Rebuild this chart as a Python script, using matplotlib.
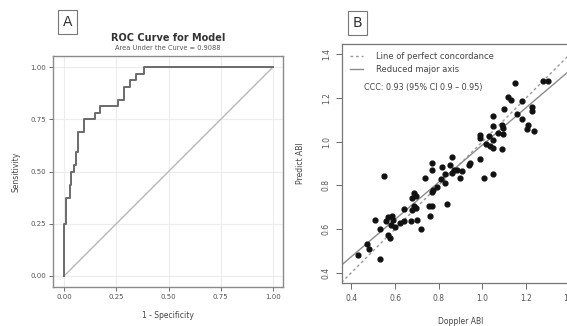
import numpy as np
import matplotlib
matplotlib.use('Agg')
import matplotlib.pyplot as plt

# ROC curve vertices (1 - specificity, sensitivity)
fpr = [0, 0, 0.011, 0.027, 0.035, 0.047, 0.056, 0.067, 0.096, 0.147,
       0.171, 0.256, 0.286, 0.315, 0.342, 0.384, 1.0]
tpr = [0, 0.25, 0.375, 0.4375, 0.5, 0.53125, 0.59375, 0.6875, 0.75,
       0.78125, 0.8125, 0.84375, 0.90625, 0.9375, 0.96875, 1.0, 1.0]
roc_ticks = [0.0, 0.25, 0.50, 0.75, 1.00]
roc_xlabels = ['0.00', '0.25', '0.50', '0.75', '1.00']
roc_ylabels = ['0.00', '0.25', '0.50', '0.75', '1.00']

# Doppler ABI vs predicted ABI
doppler = [0.548, 0.739, 0.810, 0.828, 0.790, 0.774, 0.767, 0.686, 0.694, 0.678,
           0.839, 0.755, 0.770, 0.687, 0.698, 0.641, 0.678, 0.758, 0.510, 0.568,
           0.588, 0.556, 0.591, 0.579, 0.599, 0.622, 0.641, 0.671, 0.700, 0.530,
           0.721, 0.568, 0.576, 0.469, 0.479, 0.428, 0.530,
           1.050, 1.088, 1.050, 1.093, 1.072, 0.989, 0.989, 1.030, 1.095, 1.019,
           1.034, 1.047, 1.088, 0.989, 0.943, 0.940, 0.862, 0.770, 0.813, 0.851,
           0.871, 0.882, 0.905, 0.770, 0.828, 0.859, 0.897, 1.007, 1.050,
           1.149, 1.279, 1.299, 1.118, 1.131, 1.180, 1.099, 1.229, 1.229, 1.160,
           1.180, 1.210, 1.203, 1.238, 1.050]
predict = [0.844, 0.832, 0.829, 0.809, 0.793, 0.778, 0.767, 0.763, 0.752, 0.740,
           0.712, 0.706, 0.706, 0.706, 0.696, 0.689, 0.686, 0.659, 0.643, 0.655,
           0.659, 0.635, 0.640, 0.620, 0.609, 0.627, 0.636, 0.638, 0.643, 0.598,
           0.601, 0.574, 0.560, 0.529, 0.506, 0.478, 0.460,
           1.116, 1.077, 1.070, 1.062, 1.042, 1.031, 1.016, 1.027, 1.036, 0.990,
           0.981, 0.970, 0.965, 0.919, 0.904, 0.893, 0.931, 0.904, 0.882, 0.893,
           0.870, 0.870, 0.867, 0.870, 0.850, 0.855, 0.832, 0.832, 0.852,
           1.270, 1.280, 1.280, 1.203, 1.193, 1.188, 1.151, 1.159, 1.143, 1.127,
           1.104, 1.077, 1.058, 1.051, 1.008]
rma_intercept = 0.132
rma_slope = 0.853
abi_ticks = [0.4, 0.6, 0.8, 1.0, 1.2, 1.4]
ccc_text = 'CCC: 0.93 (95% CI 0.9 \u2013 0.95)'

fig = plt.figure(figsize=(5.67, 3.26), dpi=100)

# ---- panel A ----
ax1 = fig.add_axes([0.0935, 0.1196, 0.4056, 0.7086])
ax1.set_xlim(-0.053, 1.048)
ax1.set_ylim(-0.053, 1.053)
ax1.grid(True, color='#ececec', lw=0.8)
ax1.set_axisbelow(True)
ax1.plot([0, 1], [0, 1], color='#b8b8b8', lw=1.0)
ax1.plot(fpr, tpr, drawstyle='steps-post', color='#6a6a6a', lw=1.4)
ax1.set_xticks(roc_ticks)
ax1.set_xticklabels(roc_xlabels)
ax1.set_yticks(roc_ticks)
ax1.set_yticklabels(roc_ylabels)
ax1.tick_params(labelsize=5, colors='#555555', length=3, width=0.6, pad=2)
for s in ax1.spines.values():
    s.set_color('#8a8a8a')
    s.set_linewidth(1.0)
ax1.set_xlabel('1 - Specificity', fontsize=5.5, color='#444444', labelpad=8)
ax1.set_ylabel('Sensitivity', fontsize=5.5, color='#444444', labelpad=7)

fig.text(0.296, 1 - 38 / 326, 'ROC Curve for Model', fontsize=7, fontweight='bold',
         color='#333333', ha='center', va='center')
fig.text(0.296, 1 - 48 / 326, 'Area Under the Curve = 0.9088', fontsize=4.8,
         color='#555555', ha='center', va='center')

# ---- panel B ----
ax2 = fig.add_axes([0.603, 0.132, 0.42, 0.733])
ax2.set_xlim(0.356, 1.448)
ax2.set_ylim(0.352, 1.448)
xx = np.array([0.3, 1.5])
ax2.plot(xx, xx, color='#999999', lw=1.0, ls=(0, (2, 2)),
         label='Line of perfect concordance')
ax2.plot(xx, rma_intercept + rma_slope * xx, color='#8c8c8c', lw=1.0,
         label='Reduced major axis')
ax2.scatter(doppler, predict, s=12, color='#111111', zorder=3)
ax2.set_xticks(abi_ticks)
ax2.set_yticks(abi_ticks)
ax2.set_xticklabels(['%.1f' % t for t in abi_ticks])
ax2.set_yticklabels(['%.1f' % t for t in abi_ticks], rotation=90, va='center')
ax2.tick_params(labelsize=5.5, colors='#555555', length=4, width=0.6, pad=4)
for s in ax2.spines.values():
    s.set_color('#777777')
    s.set_linewidth(0.9)
ax2.set_xlabel('Doppler ABI', fontsize=5.5, color='#444444', labelpad=10)
ax2.set_ylabel('Predict ABI', fontsize=5.5, color='#444444', labelpad=12)
leg = ax2.legend(loc='upper left', bbox_to_anchor=(0.034, 0.967), frameon=False,
                 fontsize=6, borderpad=0, borderaxespad=0, handlelength=1.6,
                 handletextpad=1.5, labelspacing=0.45)
for t in leg.get_texts():
    t.set_color('#444444')
ax2.text(0.092, 0.82, ccc_text, transform=ax2.transAxes, fontsize=5.8,
         color='#444444', va='center', ha='left')

# panel letters
box = dict(boxstyle='square,pad=0.35', fc='white', ec='#777777', lw=0.8)
fig.text(0.119, 0.933, 'A', fontsize=10, color='#333333', ha='center', va='center', bbox=box)
fig.text(0.6305, 0.929, 'B', fontsize=10, color='#333333', ha='center', va='center', bbox=box)

fig.savefig('out.png', dpi=100)
